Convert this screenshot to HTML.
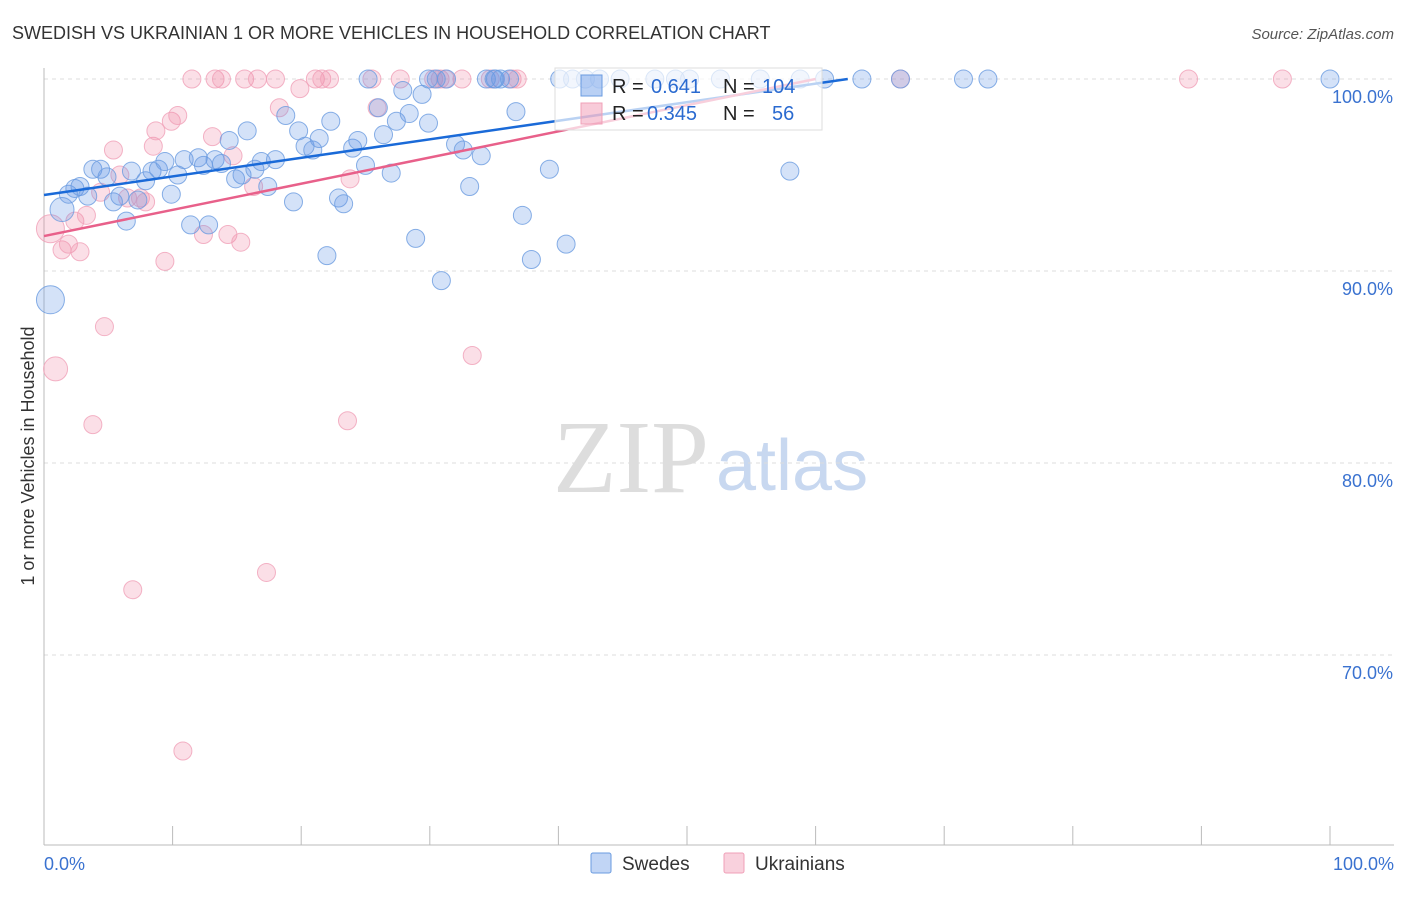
<!DOCTYPE html>
<html><head><meta charset="utf-8"><style>
body{margin:0;background:#fff;font-family:"Liberation Sans",sans-serif}
#wrap{position:relative;width:1406px;height:892px}
</style></head><body>
<div id="wrap">
<svg id="svg" width="1406" height="892" xmlns="http://www.w3.org/2000/svg">
<text x="12" y="39" font-size="18" fill="#333">SWEDISH VS UKRAINIAN 1 OR MORE VEHICLES IN HOUSEHOLD CORRELATION CHART</text>
<text x="1394" y="39" font-size="15" fill="#555" font-style="italic" text-anchor="end">Source: ZipAtlas.com</text>
<text transform="translate(34,456) rotate(-90)" font-size="18" fill="#333" text-anchor="middle">1 or more Vehicles in Household</text>
<text x="553" y="492" font-size="104" fill="#ddd" font-family="Liberation Serif,serif">ZIP</text>
<text x="716" y="490" font-size="72" fill="#c8d8f0">atlas</text>
<g id="grid"></g><g id="pts"></g><g id="trend"></g>
<g>
<rect x="555" y="68" width="267" height="62" fill="rgba(255,255,255,0.7)" stroke="#ddd"/>
<rect x="581" y="75" width="21" height="21" fill="rgba(100,150,230,0.45)" stroke="#6a9be0"/>
<rect x="581" y="103" width="21" height="21" fill="rgba(240,140,170,0.45)" stroke="#f0a0b8"/>
<g font-size="20">
<text x="612" y="93" fill="#222">R =</text><text x="651" y="93" fill="#2a6ad0">0.641</text>
<text x="723" y="93" fill="#222">N =</text><text x="762" y="93" fill="#2a6ad0">104</text></g>
<g font-size="20">
<text x="612" y="120" fill="#222">R =</text><text x="647" y="120" fill="#2a6ad0">0.345</text>
<text x="723" y="120" fill="#222">N =</text><text x="772" y="120" fill="#2a6ad0">56</text></g>
</g>
<g>
<rect x="591" y="853" width="20" height="20" rx="2" fill="rgba(100,150,230,0.4)" stroke="#6a9be0"/>
<text x="622" y="870" font-size="19" fill="#333">Swedes</text>
<rect x="724" y="853" width="20" height="20" rx="2" fill="rgba(240,140,170,0.4)" stroke="#f0a0b8"/>
<text x="755" y="870" font-size="19" fill="#333">Ukrainians</text>
</g>
</svg></div>
<script>
const yTicks=[100,90,80,70];
const xTickLabels=["0.0%","100.0%"];
const blueX=[0.5,1.4,1.9,2.4,2.8,3.4,3.8,4.4,4.9,5.4,5.9,6.4,6.8,7.3,7.9,8.4,8.9,9.4,9.9,10.4,10.9,11.4,12.0,12.4,12.8,13.3,13.8,14.4,14.9,15.4,15.8,16.4,16.9,17.4,18.0,18.8,19.4,19.8,20.3,20.9,21.4,22.0,22.3,22.9,23.3,24.0,24.4,25.0,25.2,26.0,26.4,27.0,27.4,27.9,28.4,28.9,29.4,29.9,30.5,30.9,31.3,32.0,32.6,33.1,34.0,34.4,35.1,35.5,36.2,36.7,37.2,37.9,39.3,40.1,40.6,41.1,42.1,43.2,44.8,47.5,49.1,50.2,52.6,55.7,58.0,58.8,60.7,63.6,66.6,71.5,73.4,100,29.9,35.0];
const blueY=[88.5,93.2,94.0,94.3,94.4,93.9,95.3,95.3,94.9,93.6,93.9,92.6,95.2,93.7,94.7,95.2,95.3,95.7,94.0,95.0,95.8,92.4,95.9,95.5,92.4,95.8,95.6,96.8,94.8,95.0,97.3,95.3,95.7,94.4,95.8,98.1,93.6,97.3,96.5,96.3,96.9,90.8,97.8,93.8,93.5,96.4,96.8,95.5,100,98.5,97.1,95.1,97.8,99.4,98.2,91.7,99.2,97.7,100,89.5,100,96.6,96.3,94.4,96.0,100,100,100,100,98.3,92.9,90.6,95.3,100,91.4,100,100,100,100,100,100,100,100,100,95.2,100,100,100,100,100,100,100,100,100];
const blueR=[14,12];
const pinkX=[0.5,0.9,1.4,1.9,2.4,2.8,3.3,3.8,4.4,4.7,5.4,5.9,6.5,6.9,7.5,7.9,8.5,8.7,9.4,9.9,10.4,10.8,11.5,12.4,13.1,13.3,13.8,14.3,14.7,15.3,15.6,16.3,16.6,17.3,18.0,18.3,19.9,21.1,21.6,22.2,23.6,23.8,25.5,25.9,27.7,30.3,30.8,31.2,32.5,33.3,34.7,36.4,36.8,66.6,89.0,96.3];
const pinkY=[92.2,84.9,91.1,91.4,92.6,91.0,92.9,82.0,94.1,87.1,96.3,95.0,93.8,73.4,93.8,93.6,96.5,97.3,90.5,97.8,98.1,65.0,100,91.9,97.0,100,100,91.9,96.0,91.5,100,94.4,100,74.3,100,98.5,99.5,100,100,100,82.2,94.8,100,98.5,100,100,100,100,100,85.6,100,100,100,100,100,100];
const pinkR=[14,12];
const blueTrend=[[0,93.96],[62.5,100]];
const pinkTrend=[[0,91.82],[60,100]];
const NS="http://www.w3.org/2000/svg";
const sx=v=>44+v*12.86, sy=v=>79+(100-v)*19.2;
function mk(tag,attrs,parent){const e=document.createElementNS(NS,tag);for(const k in attrs)e.setAttribute(k,attrs[k]);parent.appendChild(e);return e;}
const grid=document.getElementById('grid');
yTicks.forEach(t=>{
 const l=mk('line',{x1:44,x2:1394,y1:sy(t),y2:sy(t),stroke:'#ddd','stroke-dasharray':'4,4'},grid);
 
 
 const tx=mk('text',{x:1393,y:sy(t)+24,'font-size':18,fill:'#3a72d0','text-anchor':'end'},grid);
 tx.textContent=t.toFixed(1)+'%';
 
 
});
const ax=mk('line',{x1:44,x2:44,y1:68,y2:845,stroke:'#bbb'},grid);


const bx=mk('line',{x1:44,x2:1394,y1:845,y2:845,stroke:'#bbb'},grid);


for(let i=0;i<=10;i++){
 const t=mk('line',{x1:sx(i*10),x2:sx(i*10),y1:826,y2:845,stroke:'#bbb'},grid);
 
 
}
[[0,'start',44],[1,'end',1394]].forEach(([i,a,x])=>{
 const tx=mk('text',{x:x,y:870,'font-size':18,fill:'#3a72d0','text-anchor':a},grid);
 tx.textContent=xTickLabels[i];
 
 
});
const pts=document.getElementById('pts');
function series(X,Y,R,fill,stroke,name){
 X.forEach((x,i)=>{
  const c=mk('circle',{cx:sx(x),cy:sy(Y[i]),r:R[i]||9,fill:fill,stroke:stroke,'stroke-width':1,'stroke-opacity':0.8},pts);
  
  
 });
}
series(pinkX,pinkY,pinkR,'rgba(240,140,170,0.28)','#f0a0b8','ukrainians');
series(blueX,blueY,blueR,'rgba(100,150,230,0.28)','#6a9be0','swedes');
const tr=document.getElementById('trend');
const b=mk('line',{x1:sx(blueTrend[0][0]),y1:sy(blueTrend[0][1]),x2:sx(blueTrend[1][0]),y2:sy(blueTrend[1][1]),stroke:'#1a6ad8','stroke-width':2.5},tr);


const p=mk('line',{x1:sx(pinkTrend[0][0]),y1:sy(pinkTrend[0][1]),x2:sx(pinkTrend[1][0]),y2:sy(pinkTrend[1][1]),stroke:'#e8608a','stroke-width':2.5},tr);


</script>
</body></html>
